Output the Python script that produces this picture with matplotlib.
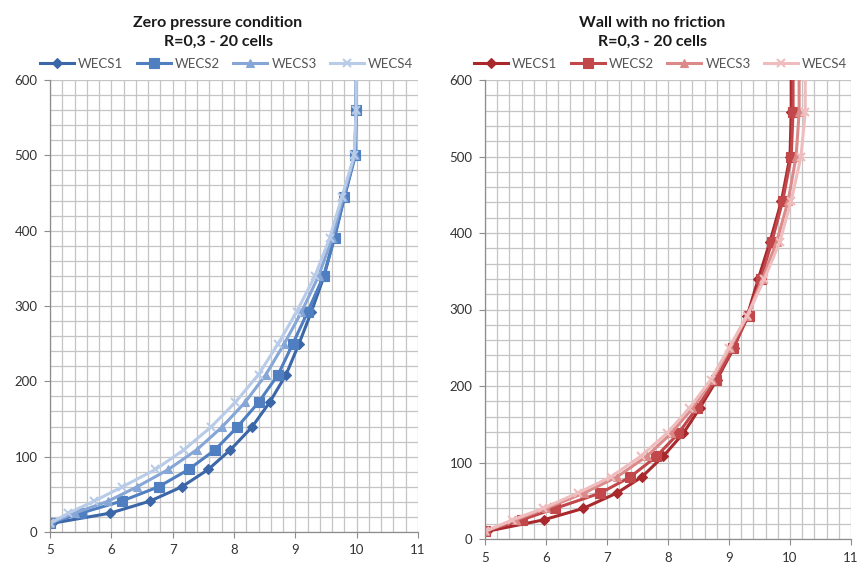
import matplotlib
matplotlib.use("Agg")
import matplotlib.pyplot as plt
from matplotlib.ticker import MultipleLocator

plt.rcParams['font.family'] = ['Lato', 'DejaVu Sans']

# Shared output levels for each curve
y_left = [11.5, 25, 41, 60, 83, 109, 139, 172, 209, 250, 292, 340, 390, 445, 500, 560, 650]
y_right = [10, 25, 40, 60, 81, 108, 138, 171, 208, 250, 292, 340, 388, 442, 500, 558, 650]

# Zero pressure condition
left_wecs1 = [5.03, 5.98, 6.63, 7.15, 7.58, 7.94, 8.29, 8.58, 8.85, 9.06, 9.26, 9.47, 9.63, 9.80, 9.97, 9.99, 10.0]
left_wecs2 = [5.0, 5.50, 6.17, 6.77, 7.26, 7.69, 8.05, 8.40, 8.72, 8.96, 9.20, 9.46, 9.64, 9.80, 9.98, 9.99, 10.0]
left_wecs3 = [5.0, 5.40, 5.95, 6.42, 6.93, 7.39, 7.80, 8.18, 8.52, 8.82, 9.10, 9.38, 9.60, 9.78, 9.97, 9.99, 10.0]
left_wecs4 = [5.0, 5.30, 5.72, 6.18, 6.72, 7.18, 7.62, 8.02, 8.40, 8.72, 9.02, 9.32, 9.56, 9.76, 9.96, 9.99, 10.0]

# Wall with no friction
right_wecs1 = [5.03, 5.96, 6.61, 7.16, 7.57, 7.92, 8.25, 8.52, 8.80, 9.08, 9.30, 9.48, 9.67, 9.86, 10.00, 10.02, 10.02]
right_wecs2 = [5.0, 5.60, 6.15, 6.89, 7.38, 7.81, 8.17, 8.47, 8.78, 9.07, 9.32, 9.52, 9.70, 9.88, 10.02, 10.05, 10.05]
right_wecs3 = [5.0, 5.50, 6.00, 6.62, 7.16, 7.65, 8.05, 8.40, 8.72, 9.02, 9.30, 9.55, 9.78, 9.97, 10.10, 10.15, 10.15]
right_wecs4 = [5.0, 5.45, 5.95, 6.52, 7.06, 7.55, 7.98, 8.35, 8.70, 9.00, 9.30, 9.58, 9.83, 10.02, 10.18, 10.25, 10.25]

labels = ["WECS1", "WECS2", "WECS3", "WECS4"]
markers = ["D", "s", "^", "x"]
msizes = [5, 7, 6, 6]
blues = ["#3b66a8", "#4f7fc0", "#85a6d6", "#b8cbe8"]
reds = ["#a8282c", "#c2474a", "#db8a89", "#efbdbd"]

fig = plt.figure(figsize=(8.65, 5.77), dpi=100)
ax1 = fig.add_axes([50/865, 1-532/577, 368/865, 452/577])
ax2 = fig.add_axes([485/865, 1-539/577, 366/865, 459/577])


def style(ax):
    ax.set_xlim(5, 11)
    ax.set_ylim(0, 600)
    ax.xaxis.set_major_locator(MultipleLocator(1))
    ax.xaxis.set_minor_locator(MultipleLocator(0.2))
    ax.yaxis.set_major_locator(MultipleLocator(100))
    ax.yaxis.set_minor_locator(MultipleLocator(20))
    ax.grid(True, which='both', color='#c4c4c4', linewidth=0.9)
    ax.set_axisbelow(True)
    for s in ['top', 'right']:
        ax.spines[s].set_visible(False)
    for s in ['left', 'bottom']:
        ax.spines[s].set_color('#8c8c8c')
        ax.spines[s].set_linewidth(0.9)
    ax.tick_params(which='major', length=4, color='#8c8c8c', labelsize=9.5,
                   labelcolor='#333333', pad=5)
    ax.tick_params(which='minor', length=0)


def draw(ax, xs_list, ys, colors):
    handles = []
    for xs, lab, m, ms, c in zip(xs_list, labels, markers, msizes, colors):
        h, = ax.plot(xs, ys, color=c, lw=2.2, marker=m, markersize=ms,
                     markeredgecolor=c, markerfacecolor=c, label=lab,
                     markeredgewidth=1.5 if m == 'x' else 0.8, clip_on=True)
        handles.append(h)
    return handles


style(ax1)
style(ax2)
h1 = draw(ax1, [left_wecs4, left_wecs3, left_wecs2, left_wecs1][::-1], y_left, blues)
h2 = draw(ax2, [right_wecs1, right_wecs2, right_wecs3, right_wecs4], y_right, reds)

for xc, title, hs in [(218/865, "Zero pressure condition\nR=0,3 - 20 cells", h1),
                      (652/865, "Wall with no friction\nR=0,3 - 20 cells", h2)]:
    fig.text(xc, 1-32/577, title, ha='center', va='center', fontsize=11.5,
             fontweight='bold', color='#1a1a1a', linespacing=1.45)
    fig.legend(handles=hs, loc='center', bbox_to_anchor=(xc + 0.01, 1-64/577),
               ncol=4, frameon=False, fontsize=9.5, handlelength=2.6,
               handletextpad=0.3, columnspacing=1.0, labelcolor='#555555')

fig.savefig("out.png", dpi=100)
